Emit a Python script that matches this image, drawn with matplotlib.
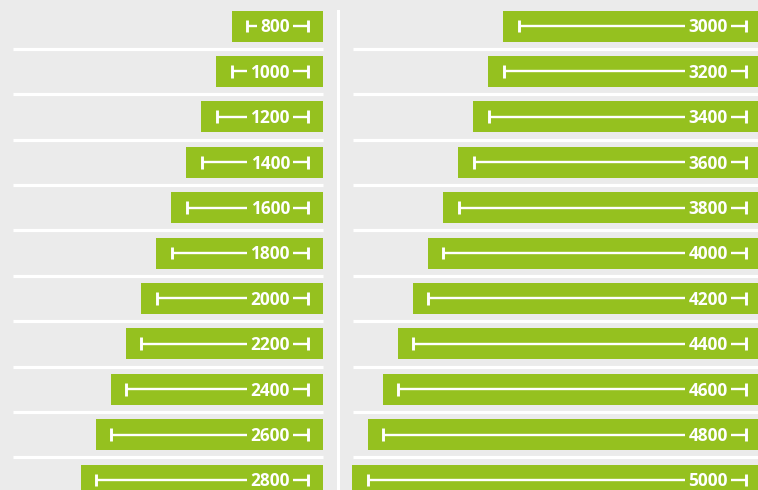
import matplotlib.pyplot as plt
import numpy as np

# lengths shown in each column (mm)
left_vals = [800, 1000, 1200, 1400, 1600, 1800, 2000, 2200, 2400, 2600, 2800]
right_vals = [3000, 3200, 3400, 3600, 3800, 4000, 4200, 4400, 4600, 4800, 5000]

bg = '#ebebeb'
green = '#95c11f'

W, H = 758, 490
k = 0.0755          # px per mm
pad = 15.5 / k      # bar padding around the dimension line (mm)
row_px = 45.4
top_px = 26

fig = plt.figure(figsize=(W / 100, H / 100), dpi=100, facecolor=bg)


def draw_column(ax, vals, right_px, ax_left_px, ax_right_px, sep_left_px):
    ax.set_facecolor('none')
    ax.set_xlim(-(right_px - ax_left_px) / k, (ax_right_px - right_px) / k)
    ax.set_ylim((H - top_px) / row_px, -top_px / row_px)
    ax.axis('off')
    y = np.arange(len(vals))
    vals = np.array(vals)
    widths = vals + 2 * pad
    ax.barh(y, widths, left=-widths, height=31 / row_px, color=green, zorder=2)
    # separators between rows
    for i in range(len(vals) - 1):
        ax.plot([-(right_px - sep_left_px) / k, 0], [i + 0.5, i + 0.5],
                color='white', lw=2.3, solid_capstyle='butt', zorder=1)
    # dimension lines
    for yi, v in zip(y, vals):
        x0, x1 = -(v + pad), -pad
        ax.plot([x0, x1], [yi, yi], color='white', lw=1.7, zorder=3,
                solid_capstyle='butt')
        for xx in (x0, x1):
            ax.plot([xx, xx], [yi - 0.14, yi + 0.14], color='white', lw=2.1,
                    zorder=3, solid_capstyle='butt')
        ax.text(x1 - 17.5 / k, yi + 0.03, str(v), ha='right', va='center',
                color='white', fontsize=12.4, fontweight='bold', family='Open Sans',
                zorder=4,
                bbox=dict(boxstyle='square,pad=0.2', fc=green, ec='none'))


# left column: axes from 0 to 345 px, bars end at 323 px
axl = fig.add_axes([0, 0, 345 / W, 1])
draw_column(axl, left_vals, 323, 0, 345, 13)
axl.axvline((338 - 323) / k, ymin=0, ymax=1 - 11 / H, color='white', lw=2.2)

# right column: axes from 345 to 758 px, bars end just past the edge
axr = fig.add_axes([345 / W, 0, 413 / W, 1])
draw_column(axr, right_vals, 761, 345, 758, 353)

fig.savefig('out.png', dpi=100, facecolor=bg)
